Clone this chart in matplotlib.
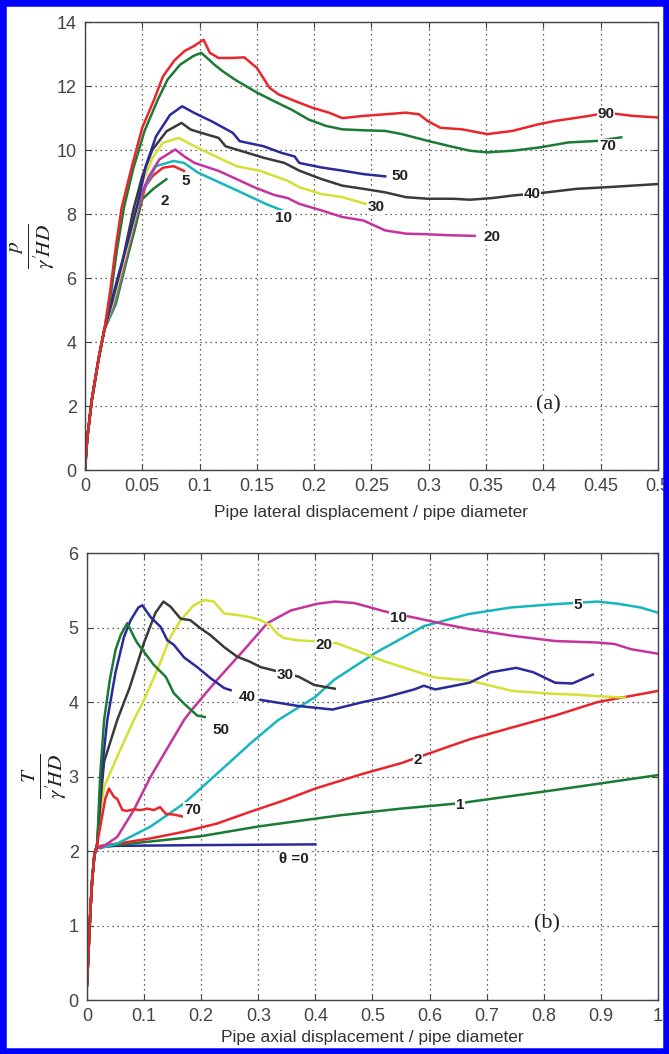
import matplotlib
matplotlib.use('Agg')
import matplotlib.pyplot as plt
from matplotlib.patches import Rectangle

plt.rcParams['font.family'] = ['Liberation Sans Narrow', 'Liberation Sans', 'DejaVu Sans']
plt.rcParams['mathtext.fontset'] = 'stix'

# ---------------- panel (a): lateral ----------------
a_rise_x = [0, 0.002, 0.006, 0.012, 0.017]
a_rise_y = [0, 1.0, 2.2, 3.5, 4.4]

a90_x = [0.022, 0.027, 0.032, 0.041, 0.05, 0.0606, 0.068, 0.078, 0.087, 0.095, 0.1035, 0.109, 0.1165,
         0.128, 0.139, 0.15, 0.161, 0.169, 0.1835, 0.198, 0.213, 0.2245, 0.243, 0.262, 0.28, 0.2915,
         0.299, 0.31, 0.329, 0.351, 0.373, 0.396, 0.41, 0.44, 0.455, 0.4665, 0.478, 0.5]
a90_y = [5.6, 7.0, 8.2, 9.5, 10.7, 11.6, 12.3, 12.8, 13.1, 13.25, 13.45, 13.04, 12.88,
         12.88, 12.9, 12.57, 11.95, 11.74, 11.53, 11.33, 11.17, 11.0, 11.07, 11.12, 11.17, 11.12,
         10.91, 10.7, 10.65, 10.5, 10.6, 10.81, 10.91, 11.07, 11.17, 11.12, 11.07, 11.02]

a70_x = [0.023, 0.028, 0.034, 0.042, 0.052, 0.0636, 0.072, 0.083, 0.095, 0.1016, 0.113, 0.12, 0.131,
         0.15, 0.165, 0.18, 0.195, 0.21, 0.2245, 0.243, 0.262, 0.2766, 0.299, 0.3176, 0.336, 0.351,
         0.373, 0.396, 0.422, 0.448, 0.468]
a70_y = [5.6, 6.9, 8.2, 9.4, 10.6, 11.58, 12.2, 12.67, 12.95, 13.04, 12.67, 12.47, 12.2,
         11.8, 11.53, 11.27, 10.96, 10.76, 10.65, 10.62, 10.6, 10.5, 10.29, 10.13, 9.98, 9.93,
         9.98, 10.08, 10.24, 10.29, 10.4]

a50_x = [0.024, 0.03, 0.038, 0.047, 0.053, 0.062, 0.0742, 0.0848, 0.0955, 0.1106, 0.129, 0.135,
         0.156, 0.171, 0.183, 0.187, 0.206, 0.2245, 0.243, 0.262]
a50_y = [5.4, 6.2, 7.22, 8.47, 9.5, 10.43, 11.1, 11.37, 11.16, 10.9, 10.54, 10.28,
         10.12, 9.92, 9.8, 9.6, 9.46, 9.36, 9.25, 9.18]

a40_x = [0.024, 0.032, 0.0424, 0.05, 0.059, 0.0712, 0.0842, 0.0924, 0.1015, 0.1167, 0.1227, 0.132,
         0.156, 0.174, 0.187, 0.206, 0.2245, 0.243, 0.262, 0.28, 0.299, 0.321, 0.336, 0.355, 0.373,
         0.403, 0.429, 0.455, 0.5]
a40_y = [5.3, 6.4, 8.16, 9.19, 10.02, 10.59, 10.85, 10.64, 10.54, 10.38, 10.12, 10.02,
         9.76, 9.6, 9.36, 9.1, 8.89, 8.79, 8.68, 8.53, 8.48, 8.48, 8.45, 8.5, 8.58,
         8.68, 8.79, 8.84, 8.94]

a30_x = [0.025, 0.033, 0.043, 0.05, 0.059, 0.068, 0.082, 0.0924, 0.1015, 0.1167, 0.132, 0.153,
         0.177, 0.187, 0.206, 0.2245, 0.245]
a30_y = [5.3, 6.4, 7.8, 8.98, 9.76, 10.23, 10.38, 10.18, 10.02, 9.76, 9.5, 9.35,
         9.04, 8.84, 8.63, 8.53, 8.32]

a20_x = [0.025, 0.034, 0.042, 0.0485, 0.056, 0.065, 0.0788, 0.0864, 0.0955, 0.1167, 0.132, 0.147,
         0.165, 0.177, 0.187, 0.206, 0.2245, 0.243, 0.262, 0.28, 0.299, 0.3176, 0.34]
a20_y = [5.2, 6.4, 7.6, 8.57, 9.19, 9.71, 10.02, 9.81, 9.6, 9.35, 9.1, 8.85,
         8.6, 8.5, 8.32, 8.12, 7.91, 7.8, 7.49, 7.39, 7.37, 7.34, 7.32]

a10_x = [0.026, 0.035, 0.043, 0.05, 0.056, 0.062, 0.0773, 0.0864, 0.0985, 0.1167, 0.132, 0.147,
         0.159, 0.176]
a10_y = [5.2, 6.5, 7.7, 8.67, 9.09, 9.5, 9.66, 9.6, 9.3, 9.0, 8.75, 8.5, 8.3, 8.06]

a5_x = [0.026, 0.035, 0.044, 0.053, 0.059, 0.068, 0.0773, 0.0864]
a5_y = [5.2, 6.5, 7.8, 8.88, 9.19, 9.45, 9.5, 9.35]

a2_x = [0.027, 0.036, 0.044, 0.05, 0.06, 0.071]
a2_y = [5.2, 6.5, 7.6, 8.47, 8.8, 9.09]

a_names = ['90', '70', '50', '40', '30', '20', '10', '5', '2']
a_label_x = [0.4545, 0.456, 0.275, 0.39, 0.254, 0.355, 0.173, 0.0875, 0.07]
a_label_y = [11.12, 10.12, 9.2, 8.62, 8.22, 7.28, 7.89, 9.04, 8.42]

# ---------------- panel (b): axial ----------------
b_rise_x = [0, 0.003, 0.006, 0.009, 0.013]
b_rise_y = [0.2, 0.7, 1.2, 1.6, 1.95]

b70_x = [0.018, 0.025, 0.032, 0.0385, 0.047, 0.053, 0.062, 0.07, 0.082, 0.094, 0.1056, 0.117,
         0.128, 0.138, 0.152, 0.17]
b70_y = [2.1, 2.4, 2.7, 2.84, 2.73, 2.7, 2.55, 2.54, 2.56, 2.55, 2.57, 2.55,
         2.59, 2.5, 2.49, 2.46]

b50_x = [0.018, 0.023, 0.03, 0.04, 0.05, 0.059, 0.0706, 0.082, 0.0876, 0.117, 0.138, 0.152, 0.17,
         0.193, 0.206]
b50_y = [2.1, 3.0, 3.76, 4.3, 4.7, 4.9, 5.06, 4.88, 4.8, 4.5, 4.34, 4.12, 3.98,
         3.82, 3.8]

b40a_x = [0.018, 0.025, 0.0356, 0.05, 0.065, 0.0765, 0.09, 0.097, 0.1115, 0.129, 0.1407, 0.152,
          0.17, 0.193, 0.2166, 0.24, 0.2516]
b40a_y = [2.1, 3.0, 3.76, 4.4, 4.88, 5.1, 5.27, 5.3, 5.14, 5.01, 4.83, 4.77,
          4.6, 4.47, 4.32, 4.19, 4.16]
b40b_x = [0.304, 0.368, 0.43, 0.483, 0.52, 0.573, 0.59, 0.61, 0.67, 0.707, 0.752, 0.782, 0.82,
          0.85, 0.886]
b40b_y = [4.03, 3.95, 3.9, 4.0, 4.06, 4.17, 4.22, 4.17, 4.26, 4.4, 4.46, 4.4, 4.26,
          4.25, 4.37]

b30_x = [0.018, 0.024, 0.03, 0.053, 0.075, 0.1, 0.12, 0.134, 0.1465, 0.164, 0.181, 0.199, 0.216,
         0.24, 0.263, 0.286, 0.304, 0.325, 0.371, 0.398, 0.434]
b30_y = [2.1, 2.7, 3.2, 3.76, 4.2, 4.8, 5.2, 5.35, 5.28, 5.12, 5.1, 4.99, 4.9,
         4.74, 4.61, 4.54, 4.47, 4.43, 4.34, 4.23, 4.18]

b20_x = [0.018, 0.025, 0.03, 0.053, 0.082, 0.1, 0.123, 0.1465, 0.164, 0.187, 0.205, 0.222, 0.24,
         0.263, 0.286, 0.304, 0.321, 0.333, 0.345, 0.368, 0.391, 0.438, 0.483, 0.52, 0.573, 0.61,
         0.67, 0.707, 0.745, 0.782, 0.82, 0.857, 0.894, 0.942]
b20_y = [2.1, 2.6, 2.86, 3.27, 3.76, 4.03, 4.43, 4.88, 5.1, 5.3, 5.37, 5.35, 5.19,
         5.17, 5.14, 5.1, 5.03, 4.92, 4.86, 4.83, 4.82, 4.79, 4.66, 4.55, 4.42, 4.33,
         4.29, 4.22, 4.15, 4.13, 4.11, 4.1, 4.08, 4.06]

b10_x = [0.018, 0.024, 0.053, 0.082, 0.1115, 0.17, 0.184, 0.228, 0.275, 0.316, 0.357, 0.403, 0.434,
         0.468, 0.497, 0.52, 0.576, 0.63, 0.67, 0.745, 0.82, 0.894, 0.924, 0.953, 1.0]
b10_y = [2.05, 2.04, 2.19, 2.55, 3.0, 3.76, 3.9, 4.3, 4.7, 5.06, 5.23, 5.32, 5.35,
         5.33, 5.27, 5.22, 5.13, 5.04, 4.98, 4.89, 4.82, 4.8, 4.78, 4.71, 4.65]

b5_x = [0.018, 0.024, 0.053, 0.1115, 0.17, 0.228, 0.287, 0.335, 0.4, 0.433, 0.505, 0.59, 0.667,
        0.742, 0.81, 0.894, 0.93, 0.97, 1.0]
b5_y = [2.05, 2.04, 2.1, 2.33, 2.64, 3.04, 3.45, 3.76, 4.07, 4.3, 4.66, 5.02, 5.18,
        5.27, 5.31, 5.35, 5.32, 5.27, 5.2]

b2_x = [0.018, 0.024, 0.053, 0.1115, 0.17, 0.228, 0.287, 0.345, 0.4, 0.48, 0.55, 0.67, 0.745,
        0.82, 0.894, 1.0]
b2_y = [2.05, 2.07, 2.1, 2.17, 2.26, 2.37, 2.53, 2.68, 2.84, 3.03, 3.18, 3.5, 3.66,
        3.82, 4.0, 4.15]

b1_x = [0.018, 0.05, 0.1, 0.2, 0.3, 0.443, 0.55, 0.65, 0.82, 1.0]
b1_y = [2.05, 2.08, 2.12, 2.2, 2.33, 2.48, 2.57, 2.64, 2.82, 3.02]

b0_x = [0.018, 0.05, 0.2, 0.4]
b0_y = [2.05, 2.07, 2.08, 2.09]

b_names = ['70', '50', '40', '30', '20', '10', '5', '2', '1', 'θ =0']
b_label_x = [0.185, 0.234, 0.28, 0.348, 0.415, 0.545, 0.86, 0.58, 0.653, 0.363]
b_label_y = [2.55, 3.62, 4.07, 4.36, 4.77, 5.13, 5.31, 3.22, 2.62, 1.9]

RED = '#e8262b'
GREEN = '#1b7a35'
BLUE = '#2b2a9a'
BLACK = '#3a3a3a'
YELLOW = '#d4e034'
MAGENTA = '#c4349c'
CYAN = '#16b6bf'

fig = plt.figure(figsize=(6.69, 10.54), dpi=100)
ax1 = fig.add_axes([0.127, 0.554, 0.8565, 0.425])
ax2 = fig.add_axes([0.130, 0.0512, 0.8535, 0.424])


def style_axes(ax):
    ax.grid(True, linestyle=(0, (1, 3)), color='#333333', linewidth=0.9)
    ax.tick_params(direction='in', top=True, right=True, length=4, width=0.8,
                   labelsize=13, colors='#444444', pad=6)
    for sp in ax.spines.values():
        sp.set_color('#444444')
        sp.set_linewidth(1.0)


# panel (a)
a_curves = [(a90_x, a90_y, RED), (a70_x, a70_y, GREEN), (a50_x, a50_y, BLUE),
            (a40_x, a40_y, BLACK), (a30_x, a30_y, YELLOW), (a20_x, a20_y, MAGENTA),
            (a10_x, a10_y, CYAN), (a5_x, a5_y, RED), (a2_x, a2_y, GREEN)]
for xs, ys, c in a_curves[::-1]:
    ax1.plot(a_rise_x + xs, a_rise_y + ys, color=c, lw=1.8)
for name, lx, ly in zip(a_names, a_label_x, a_label_y):
    ax1.text(lx, ly, name, ha='center', va='center', fontsize=11, fontweight='bold',
             color='#222222', bbox=dict(facecolor='white', edgecolor='none', pad=0.5))
ax1.text(0.404, 2.05, '(a)', ha='center', va='center', fontsize=16, family='Liberation Serif',
         color='#222222', bbox=dict(facecolor='white', edgecolor='none', pad=2))
ax1.set_xlim(0, 0.5)
ax1.set_ylim(0, 14)
ax1.set_xticks([0, 0.05, 0.1, 0.15, 0.2, 0.25, 0.3, 0.35, 0.4, 0.45, 0.5])
ax1.set_xticklabels(['0', '0.05', '0.1', '0.15', '0.2', '0.25', '0.3', '0.35', '0.4', '0.45', '0.5'])
ax1.set_yticks([0, 2, 4, 6, 8, 10, 12, 14])
style_axes(ax1)
ax1.set_xlabel('Pipe lateral displacement / pipe diameter', fontsize=12.5, color='#333333', labelpad=7)
ax1.set_ylabel(r"$\frac{p}{\gamma^{\prime}\!HD}$", fontsize=22, color='#222222', labelpad=0)

# panel (b)
b_curves = [(b70_x, b70_y, RED), (b50_x, b50_y, GREEN), (b40a_x, b40a_y, BLUE),
            (b40b_x, b40b_y, BLUE), (b30_x, b30_y, BLACK), (b20_x, b20_y, YELLOW),
            (b10_x, b10_y, MAGENTA), (b5_x, b5_y, CYAN), (b2_x, b2_y, RED),
            (b1_x, b1_y, GREEN), (b0_x, b0_y, BLUE)]
for xs, ys, c in b_curves[::-1]:
    if xs is b40b_x:
        ax2.plot(xs, ys, color=c, lw=1.8)
    else:
        ax2.plot(b_rise_x + xs, b_rise_y + ys, color=c, lw=1.8)
for name, lx, ly in zip(b_names, b_label_x, b_label_y):
    ax2.text(lx, ly, name, ha='center', va='center', fontsize=11, fontweight='bold',
             color='#222222', bbox=dict(facecolor='white', edgecolor='none', pad=0.5))
ax2.text(0.805, 1.02, '(b)', ha='center', va='center', fontsize=16, family='Liberation Serif',
         color='#222222', bbox=dict(facecolor='white', edgecolor='none', pad=2))
ax2.set_xlim(0, 1)
ax2.set_ylim(0, 6)
ax2.set_xticks([0, 0.1, 0.2, 0.3, 0.4, 0.5, 0.6, 0.7, 0.8, 0.9, 1])
ax2.set_xticklabels(['0', '0.1', '0.2', '0.3', '0.4', '0.5', '0.6', '0.7', '0.8', '0.9', '1'])
ax2.set_yticks([0, 1, 2, 3, 4, 5, 6])
style_axes(ax2)
ax2.set_xlabel('Pipe axial displacement / pipe diameter', fontsize=12.5, color='#333333', labelpad=3)
ax2.set_ylabel(r"$\frac{T}{\gamma^{\prime}\!HD}$", fontsize=22, color='#222222', labelpad=0)

# blue frame round the figure
fig.patches.append(Rectangle((0, 0), 1, 1, transform=fig.transFigure, fill=False,
                             edgecolor='#0000ff', linewidth=9))

fig.savefig('out.png', dpi=100, facecolor='white')
